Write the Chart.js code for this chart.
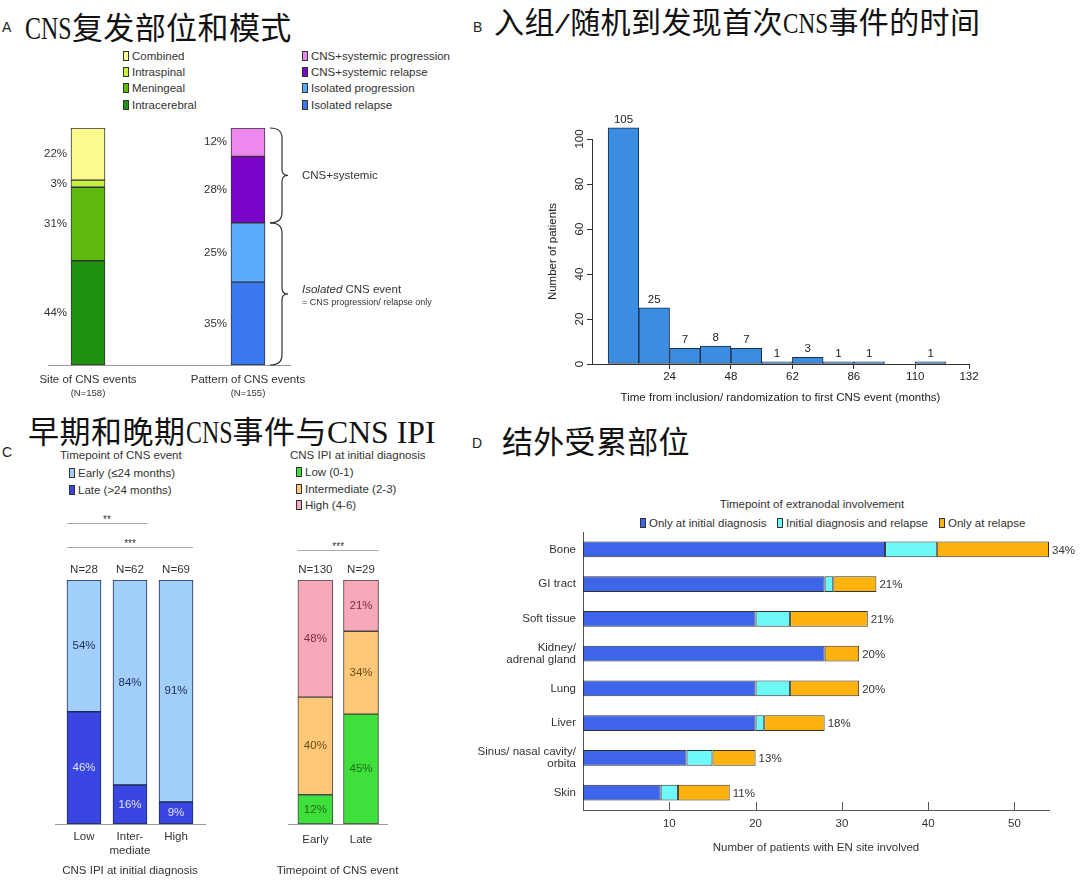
<!DOCTYPE html>
<html><head><meta charset="utf-8">
<script src="https://cdn.jsdelivr.net/npm/chart.js@4.4.1/dist/chart.umd.min.js"></script>
<style>
html,body{margin:0;padding:0;background:#fff;}
#root{position:relative;width:1080px;height:883px;overflow:hidden;font-family:"Liberation Sans",Arial,sans-serif;color:#333;}
.abs{position:absolute;white-space:nowrap;}
.title{font-family:"Noto Sans CJK SC",sans-serif;color:#111;line-height:1;}
.lat{display:inline-block;font-family:"Liberation Serif",serif;letter-spacing:0;white-space:pre;transform-origin:0 50%;}
.panel{font-size:14px;color:#222;line-height:1;}
.lg{font-size:11.5px;line-height:14px;color:#333;}
.sq{display:inline-block;width:4px;height:8px;border:1px solid #333;margin-right:3px;vertical-align:-1px;}
canvas{position:absolute;}
</style></head><body><div id="root"></div>
<script>
// ---------------- DATA ----------------
// Panel A
const siteSeries = ['Intracerebral', 'Meningeal', 'Intraspinal', 'Combined'];
const siteValues = [44, 31, 3, 22];
const patternSeries = ['Isolated relapse', 'Isolated progression', 'CNS+systemic relapse', 'CNS+systemic progression'];
const patternValues = [35, 25, 28, 12];
const panelACategories = ['Site of CNS events', 'Pattern of CNS events'];
const panelAN = ['(N=158)', '(N=155)'];
// Panel B
const histBinStartMonths = [0, 12, 24, 36, 48, 60, 72, 84, 96, 108, 120];
const histBinWidth = 12;
const histCounts = [105, 25, 7, 8, 7, 1, 3, 1, 1, 0, 1];
const histTickMonths = [24, 48, 72, 96, 120, 141];
const histTickLabels = ['24', '48', '62', '86', '110', '132'];
// Panel C
const ipiCategories = ['Low', ['Inter-', 'mediate'], 'High'];
const ipiN = ['N=28', 'N=62', 'N=69'];
const latePct = [46, 16, 9];
const earlyPct = [54, 84, 91];
const timeCategories = ['Early', 'Late'];
const timeN = ['N=130', 'N=29'];
const lowIpiPct = [12, 45];
const intIpiPct = [40, 34];
const highIpiPct = [48, 21];
// Panel D
const enSites = ['Bone', 'GI tract', 'Soft tissue', ['Kidney/', 'adrenal gland'], 'Lung', 'Liver', ['Sinus/ nasal cavity/', 'orbita'], 'Skin'];
const onlyInitial = [35, 28, 20, 28, 20, 20, 12, 9];
const initialAndRelapse = [6, 1, 4, 0, 4, 1, 3, 2];
const onlyRelapse = [13, 5, 9, 4, 8, 7, 5, 6];
const enPctLabels = ['34%', '21%', '21%', '20%', '20%', '18%', '13%', '11%'];
const enTicks = [10, 20, 30, 40, 50];

// ---------------- STYLE ----------------
const siteColors = ['#1f930f', '#5db90f', '#c9ef45', '#fafa8e'];
const patternColors = ['#3a78f0', '#5aabf9', '#7a05c9', '#ee88ee'];
const earlyColor = '#a2cff9', lateColor = '#3a46e2';
const lowColor = '#40e03c', intColor = '#fcc878', highColor = '#f8a9b9';
const enColors = ['#3e64ea', '#6ff8f8', '#fdb20d'];
const FONT = '"Liberation Sans", Arial, sans-serif';

Chart.defaults.font.family = FONT;
Chart.defaults.font.size = 11.5;
Chart.defaults.color = '#333';

const root = document.getElementById('root');
function makeCanvas(left, top, w, h) {
  const c = document.createElement('canvas');
  c.width = w; c.height = h;
  c.style.left = left + 'px'; c.style.top = top + 'px';
  c.style.width = w + 'px'; c.style.height = h + 'px';
  root.appendChild(c); return c;
}
function fix(size) {
  return s => {
    if (s.isHorizontal()) s.height = size; else s.width = size;
    s.paddingLeft = s.paddingRight = s.paddingTop = s.paddingBottom = 0;
  };
}
function textDiv(x, cy, str, css) {
  const d = document.createElement('div');
  d.className = 'abs lg'; d.style.left = x + 'px'; d.style.top = (cy - 7) + 'px';
  d.textContent = str; Object.assign(d.style, css || {});
  root.appendChild(d); return d;
}
function legendItem(x, cy, color, label) {
  const d = document.createElement('div');
  d.className = 'abs lg'; d.style.left = x + 'px'; d.style.top = (cy - 7) + 'px';
  const s = document.createElement('span'); s.className = 'sq'; s.style.background = color;
  d.appendChild(s); d.appendChild(document.createTextNode(label));
  root.appendChild(d);
}
function panelLetter(x, top, ch) {
  const d = document.createElement('div'); d.className = 'abs panel';
  d.style.left = x + 'px'; d.style.top = top + 'px'; d.textContent = ch; root.appendChild(d);
}
function cjkTitle(x, top, str, size, ls) {
  const d = document.createElement('div');
  d.className = 'abs title'; d.style.left = x + 'px'; d.style.top = top + 'px';
  d.style.fontSize = size + 'px'; d.style.letterSpacing = ls + 'px';
  str.split(/([\x20-\x7e]+)/).forEach(part => {
    if (!part) return;
    if (/^[\x20-\x7e]+$/.test(part)) {
      const s = document.createElement('span'); s.className = 'lat'; s.textContent = part;
      s.dataset.n = part.length; d.appendChild(s);
    } else d.appendChild(document.createTextNode(part));
  });
  root.appendChild(d);
  d.querySelectorAll('.lat').forEach(s => {
    const w = s.getBoundingClientRect().width;
    const target = s.dataset.n * size / 2;
    s.style.transform = 'scaleX(' + (target / w) + ')';
    s.style.marginRight = (target - w + ls) + 'px';
  });
}
const common = {
  responsive: false, animation: false, devicePixelRatio: 1, events: [],
  plugins: { legend: { display: false }, tooltip: { enabled: false } }
};
function props(bar) { return bar.getProps(['x', 'y', 'base', 'width', 'height'], true); }

// ---------------- TITLES / LEGENDS ----------------
panelLetter(2, 20, 'A');
cjkTitle(25, 10, 'CNS复发部位和模式', 31, 0.4);
panelLetter(473, 20, 'B');
cjkTitle(494, 5, '入组/随机到发现首次CNS事件的时间', 30, 0.4);
panelLetter(2, 445, 'C');
cjkTitle(28, 414, '早期和晚期CNS事件与CNS IPI', 31, 0.5);
panelLetter(472, 436, 'D');
cjkTitle(502, 424, '结外受累部位', 31, 0.3);

// legend A (top to bottom = reverse stacking order)
const legAy = [55.5, 72, 88, 104.5];
siteSeries.slice().reverse().forEach((s, i) => legendItem(123, legAy[i], siteColors[siteSeries.length - 1 - i], s));
patternSeries.slice().reverse().forEach((s, i) => legendItem(302, legAy[i], patternColors[patternSeries.length - 1 - i], s));

// legend C left
textDiv(60, 455, 'Timepoint of CNS event');
legendItem(69, 472.5, earlyColor, 'Early (\u226424 months)');
legendItem(69, 490, lateColor, 'Late (>24 months)');
// legend C right
textDiv(290, 455, 'CNS IPI at initial diagnosis');
legendItem(296, 471.5, lowColor, 'Low (0-1)');
legendItem(296, 488.5, intColor, 'Intermediate (2-3)');
legendItem(296, 505, highColor, 'High (4-6)');
// legend D
textDiv(712, 504, 'Timepoint of extranodal involvement', { width: '200px', textAlign: 'center' });
legendItem(640, 523, enColors[0], 'Only at initial diagnosis');
legendItem(777, 523, enColors[1], 'Initial diagnosis and relapse');
legendItem(939, 523, enColors[2], 'Only at relapse');

// ---------------- PANEL A ----------------
function drawBrace(ctx, x0, y1, y2) {
  const xv = x0 + 12, xt = x0 + 18, mid = (y1 + y2) / 2, r = 10;
  ctx.beginPath();
  ctx.moveTo(x0, y1);
  ctx.quadraticCurveTo(xv, y1, xv, y1 + r);
  ctx.lineTo(xv, mid - 6);
  ctx.quadraticCurveTo(xv, mid, xt, mid);
  ctx.quadraticCurveTo(xv, mid, xv, mid + 6);
  ctx.lineTo(xv, y2 - r);
  ctx.quadraticCurveTo(xv, y2, x0, y2);
  ctx.stroke();
  return xt;
}
const braceGroups = [
  { series: [2, 3], text: 'CNS+systemic' },
  { series: [0, 1], italic: 'Isolated', text: ' CNS event', sub: '= CNS progression/ relapse only' }
];
const panelAPlugin = {
  id: 'panelA',
  afterDatasetsDraw(chart) {
    const ctx = chart.ctx; ctx.save();
    ctx.fillStyle = '#333'; ctx.font = '11.5px ' + FONT; ctx.textAlign = 'right'; ctx.textBaseline = 'middle';
    chart.data.datasets.forEach((ds, di) => {
      chart.getDatasetMeta(di).data.forEach((bar, i) => {
        const p = props(bar);
        ctx.fillText(ds.data[i].y + '%', p.x - p.width / 2 - 4, (p.y + p.base) / 2);
      });
    });
    const xs = chart.scales.x;
    ctx.textAlign = 'center'; ctx.font = '9.5px ' + FONT;
    panelAN.forEach((n, i) => ctx.fillText(n, xs.getPixelForValue(i), chart.chartArea.bottom + 28));
    // braces
    ctx.strokeStyle = '#333'; ctx.lineWidth = 1.2;
    braceGroups.forEach(g => {
      const bars = g.series.map(k => props(chart.getDatasetMeta(siteSeries.length + k).data[0]));
      const y1 = Math.min(...bars.map(b => b.y)), y2 = Math.max(...bars.map(b => b.base));
      const x0 = bars[0].x + bars[0].width / 2 + 5;
      const xt = drawBrace(ctx, x0, y1, y2);
      const mid = (y1 + y2) / 2, tx = xt + 14;
      ctx.textAlign = 'left'; ctx.textBaseline = 'middle';
      if (g.italic) {
        ctx.font = 'italic 11.5px ' + FONT; ctx.fillText(g.italic, tx, mid - 4);
        const w = ctx.measureText(g.italic).width;
        ctx.font = '11.5px ' + FONT; ctx.fillText(g.text, tx + w, mid - 4);
        ctx.font = '9px ' + FONT; ctx.fillText(g.sub, tx, mid + 9);
      } else {
        ctx.font = '11.5px ' + FONT; ctx.fillText(g.text, tx, mid);
      }
    });
    ctx.restore();
  }
};
new Chart(makeCanvas(0, 110, 460, 290), {
  type: 'bar',
  data: {
    datasets: [
      ...siteSeries.map((s, i) => ({ label: s, data: [{ x: 0, y: siteValues[i] }], backgroundColor: siteColors[i] })),
      ...patternSeries.map((s, i) => ({ label: s, data: [{ x: 1, y: patternValues[i] }], backgroundColor: patternColors[i] }))
    ]
  },
  options: {
    ...common,
    layout: { padding: { left: 48, right: 170, top: 18, bottom: 0 } },
    datasets: { bar: { barThickness: 34, borderColor: '#333', borderWidth: 1, borderSkipped: false } },
    scales: {
      x: {
        type: 'linear', stacked: true, min: -0.25, max: 1.2625, offset: false,
        afterBuildTicks: s => { s.ticks = panelACategories.map((_, i) => ({ value: i })); },
        ticks: { callback: (v, i) => panelACategories[i], padding: 8, autoSkip: false, maxRotation: 0 },
        grid: { display: false, drawTicks: false, offset: false },
        border: { display: true, color: '#999', width: 1 },
        afterFit: fix(35)
      },
      y: { display: false, stacked: true, min: 0, max: 100 }
    }
  },
  plugins: [panelAPlugin]
});

// ---------------- PANEL B ----------------
const panelBPlugin = {
  id: 'panelB',
  afterDatasetsDraw(chart) {
    const ctx = chart.ctx; ctx.save();
    ctx.fillStyle = '#222'; ctx.font = '11.5px ' + FONT; ctx.textAlign = 'center'; ctx.textBaseline = 'middle';
    chart.getDatasetMeta(0).data.forEach((bar, i) => {
      if (!histCounts[i]) return;
      const p = props(bar);
      ctx.fillText(String(histCounts[i]), p.x, p.y - 8);
    });
    const ys = chart.scales.y;
    ys.ticks.forEach(t => {
      ctx.save();
      ctx.translate(chart.chartArea.left - 12, ys.getPixelForValue(t.value));
      ctx.rotate(-Math.PI / 2);
      ctx.fillText(String(t.value), 0, 0);
      ctx.restore();
    });
    ctx.restore();
  }
};
new Chart(makeCanvas(520, 90, 480, 315), {
  type: 'bar',
  data: {
    datasets: [{
      data: histBinStartMonths.map((m, i) => ({ x: m + histBinWidth / 2, y: histCounts[i] })),
      backgroundColor: '#3b8de2', borderColor: '#1d2a44', borderWidth: 1, borderSkipped: false,
      barPercentage: 1, categoryPercentage: 1, clip: false
    }]
  },
  options: {
    ...common,
    layout: { padding: { left: 26, right: 31, top: 49, bottom: 0 } },
    scales: {
      x: {
        type: 'linear', min: -6.3, max: 141, offset: false,
        afterBuildTicks: s => { s.ticks = histTickMonths.map(v => ({ value: v })); },
        ticks: { callback: (v, i) => histTickLabels[i], padding: 1, autoSkip: false, maxRotation: 0, color: '#222' },
        grid: { display: true, drawOnChartArea: false, drawTicks: true, tickLength: 5, color: '#333', offset: false },
        border: { display: true, color: '#333' },
        title: { display: true, text: 'Time from inclusion/ randomization to first CNS event (months)', padding: 0, font: { size: 11.5 }, color: '#222' },
        afterFit: fix(41)
      },
      y: {
        min: 0, max: 100,
        ticks: { stepSize: 20, color: 'rgba(0,0,0,0)' },
        grid: { display: true, drawOnChartArea: false, drawTicks: true, tickLength: 5, color: '#333' },
        border: { display: true, color: '#333' },
        title: { display: true, text: 'Number of patients', padding: 0, font: { size: 11.5 }, color: '#222' },
        afterFit: fix(46)
      }
    }
  },
  plugins: [panelBPlugin]
});

// ---------------- PANEL C ----------------
function columnPlugin(id, nLabels, labelColors, sig, sigBase, axisTitle) {
  return {
    id,
    afterDatasetsDraw(chart) {
      const ctx = chart.ctx; ctx.save();
      ctx.textAlign = 'center'; ctx.textBaseline = 'middle'; ctx.font = '11.5px ' + FONT;
      chart.data.datasets.forEach((ds, di) => {
        ctx.fillStyle = labelColors[di];
        chart.getDatasetMeta(di).data.forEach((bar, i) => {
          const p = props(bar);
          ctx.fillText(ds.data[i].y + '%', p.x, (p.y + p.base) / 2);
        });
      });
      const { top, bottom, left, right } = chart.chartArea;
      const b0 = chart.getDatasetMeta(0).data.map(props);
      ctx.fillStyle = '#333';
      nLabels.forEach((n, i) => ctx.fillText(n, b0[i].x, top - 10));
      ctx.fillText(axisTitle, (left + right) / 2, bottom + 47);
      sig.forEach(s => {
        const a = b0[s.from], b = b0[s.to];
        const x1 = a.x - a.width / 2, x2 = b.x + b.width / 2;
        const y = Math.round(top - sigBase - (s.level - 1) * 24) + 0.5;
        ctx.strokeStyle = '#aaa'; ctx.lineWidth = 1;
        ctx.beginPath(); ctx.moveTo(x1, y); ctx.lineTo(x2, y); ctx.stroke();
        ctx.fillStyle = '#333'; ctx.font = '10px ' + FONT;
        ctx.fillText(s.text, (x1 + x2) / 2, y - 3);
        ctx.font = '11.5px ' + FONT;
      });
      ctx.restore();
    }
  };
}
function columnScales(min, max, cats, pad) {
  return {
    x: {
      type: 'linear', stacked: true, min, max, offset: false,
      afterBuildTicks: s => { s.ticks = cats.map((_, i) => ({ value: i })); },
      ticks: { callback: (v, i) => cats[i], padding: pad, autoSkip: false, maxRotation: 0, font: { size: 11.5, lineHeight: 1.2 } },
      grid: { display: false, drawTicks: false, offset: false },
      border: { display: true, color: '#999', width: 1 },
      afterFit: fix(54)
    },
    y: { display: false, stacked: true, min: 0, max: 100 }
  };
}
new Chart(makeCanvas(0, 500, 220, 378), {
  type: 'bar',
  data: {
    datasets: [
      { label: 'Late (>24 months)', data: latePct.map((v, i) => ({ x: i, y: v })), backgroundColor: lateColor },
      { label: 'Early (\u226424 months)', data: earlyPct.map((v, i) => ({ x: i, y: v })), backgroundColor: earlyColor }
    ]
  },
  options: {
    ...common,
    layout: { padding: { left: 55, right: 15, top: 80, bottom: 0 } },
    datasets: { bar: { barThickness: 34, borderColor: '#1f2a55', borderWidth: 1, borderSkipped: false } },
    scales: columnScales(-0.63, 2.63, ipiCategories, 6)
  },
  plugins: [columnPlugin('cLeft', ipiN, ['#dfe2ff', '#1c2c5a'],
    [{ from: 0, to: 2, text: '***', level: 1 }, { from: 0, to: 1, text: '**', level: 2 }], 33,
    'CNS IPI at initial diagnosis')]
});
new Chart(makeCanvas(240, 500, 180, 378), {
  type: 'bar',
  data: {
    datasets: [
      { label: 'Low (0-1)', data: lowIpiPct.map((v, i) => ({ x: i, y: v })), backgroundColor: lowColor },
      { label: 'Intermediate (2-3)', data: intIpiPct.map((v, i) => ({ x: i, y: v })), backgroundColor: intColor },
      { label: 'High (4-6)', data: highIpiPct.map((v, i) => ({ x: i, y: v })), backgroundColor: highColor }
    ]
  },
  options: {
    ...common,
    layout: { padding: { left: 48, right: 33, top: 80, bottom: 0 } },
    datasets: { bar: { barThickness: 35, borderColor: '#444', borderWidth: 1, borderSkipped: false } },
    scales: columnScales(-0.6, 1.57, timeCategories, 9)
  },
  plugins: [columnPlugin('cRight', timeN, ['#1d6b15', '#6a4a16', '#7d2f44'],
    [{ from: 0, to: 1, text: '***', level: 1 }], 30, 'Timepoint of CNS event')]
});

// ---------------- PANEL D ----------------
const panelDPlugin = {
  id: 'panelD',
  afterDatasetsDraw(chart) {
    const ctx = chart.ctx; ctx.save();
    const xs = chart.scales.x, bottom = chart.chartArea.bottom;
    ctx.strokeStyle = '#555'; ctx.lineWidth = 1;
    xs.ticks.forEach(t => {
      const px = Math.round(xs.getPixelForValue(t.value)) + 0.5;
      ctx.beginPath(); ctx.moveTo(px, bottom); ctx.lineTo(px, bottom - 8); ctx.stroke();
    });
    const last = chart.getDatasetMeta(chart.data.datasets.length - 1).data;
    ctx.fillStyle = '#333'; ctx.font = '11.5px ' + FONT; ctx.textAlign = 'left'; ctx.textBaseline = 'middle';
    last.forEach((bar, i) => {
      const p = props(bar);
      ctx.fillText(enPctLabels[i], p.x + 3, p.y + 1);
    });
    ctx.restore();
  }
};
new Chart(makeCanvas(470, 530, 610, 325), {
  type: 'bar',
  data: {
    labels: enSites,
    datasets: [
      { label: 'Only at initial diagnosis', data: onlyInitial, backgroundColor: enColors[0] },
      { label: 'Initial diagnosis and relapse', data: initialAndRelapse, backgroundColor: enColors[1] },
      { label: 'Only at relapse', data: onlyRelapse, backgroundColor: enColors[2] }
    ]
  },
  options: {
    ...common,
    indexAxis: 'y',
    layout: { padding: { left: 0, right: 31, top: 2, bottom: 0 } },
    datasets: { bar: { barPercentage: 0.46, categoryPercentage: 1, borderColor: '#333', borderWidth: 1, borderSkipped: false } },
    scales: {
      x: {
        stacked: true, min: 0, max: 54,
        afterBuildTicks: s => { s.ticks = enTicks.map(v => ({ value: v })); },
        ticks: { padding: 7, autoSkip: false, maxRotation: 0 },
        grid: { display: false, drawTicks: false },
        border: { display: true, color: '#555' },
        title: { display: true, text: 'Number of patients with EN site involved', padding: 0, font: { size: 11.5 } },
        afterFit: fix(45)
      },
      y: {
        stacked: true,
        ticks: { padding: 7, autoSkip: false, font: { size: 11.5, lineHeight: 1.05 } },
        grid: { display: false, drawTicks: false },
        border: { display: true, color: '#555' },
        afterFit: fix(113)
      }
    }
  },
  plugins: [panelDPlugin]
});
</script></body></html>
